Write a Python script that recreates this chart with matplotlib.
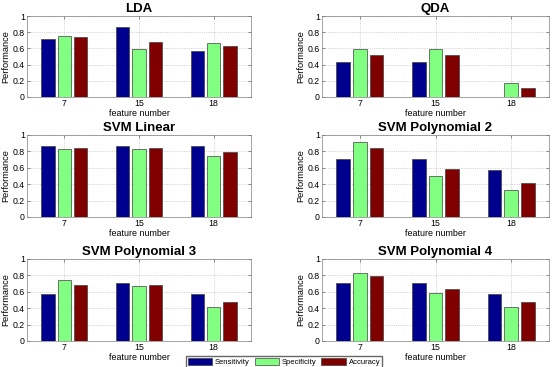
import matplotlib
matplotlib.use("Agg")
import matplotlib.pyplot as plt
import numpy as np

plt.rcParams["font.family"] = ["Liberation Sans", "DejaVu Sans"]

feature_labels = ["7", "15", "18"]
series_names = ["Sensitivity", "Specificity", "Accuracy"]
series_colors = ["#00008f", "#80ff80", "#800000"]

# values per classifier: rows = series (sens, spec, acc), cols = feature sets
lda = [[0.71, 0.86, 0.57], [0.75, 0.59, 0.67], [0.74, 0.68, 0.63]]
qda = [[0.43, 0.43, 0.0], [0.59, 0.59, 0.17], [0.52, 0.52, 0.11]]
svm_linear = [[0.86, 0.86, 0.86], [0.83, 0.83, 0.75], [0.84, 0.84, 0.79]]
svm_poly2 = [[0.71, 0.71, 0.57], [0.92, 0.50, 0.33], [0.84, 0.58, 0.42]]
svm_poly3 = [[0.57, 0.71, 0.57], [0.75, 0.67, 0.42], [0.68, 0.68, 0.47]]
svm_poly4 = [[0.71, 0.71, 0.57], [0.83, 0.59, 0.42], [0.79, 0.63, 0.47]]

panels = [
    ("LDA", lda),
    ("QDA", qda),
    ("SVM Linear", svm_linear),
    ("SVM Polynomial 2", svm_poly2),
    ("SVM Polynomial 3", svm_poly3),
    ("SVM Polynomial 4", svm_poly4),
]

W, H = 552, 367
fig = plt.figure(figsize=(W / 100, H / 100), dpi=100)

# axes boxes in pixels: (left, top, right, bottom)
col_x = [(27, 251), (322, 549)]
row_y = [(16, 97), (135, 217), (259, 341)]

x = np.arange(1, 4)
offsets = [-0.22, 0.0, 0.22]
bar_w = 0.18

handles = []
for i, (title, vals) in enumerate(panels):
    r, c = divmod(i, 2)
    x0, x1 = col_x[c]
    y0, y1 = row_y[r]
    ax = fig.add_axes([x0 / W, 1 - y1 / H, (x1 - x0) / W, (y1 - y0) / H])
    ax.set_axisbelow(True)
    for k in range(3):
        b = ax.bar(x + offsets[k], vals[k], bar_w, color=series_colors[k],
                   edgecolor="#404040", linewidth=0.5, label=series_names[k])
        if i == 0:
            handles.append(b)
    ax.set_xlim(0.5, 3.5)
    ax.set_ylim(0, 1)
    ax.set_xticks(x)
    ax.set_xticklabels(feature_labels)
    ax.set_yticks([0, 0.2, 0.4, 0.6, 0.8, 1])
    ax.set_yticklabels(["0", "0.2", "0.4", "0.6", "0.8", "1"])
    ax.tick_params(direction="in", labelsize=6.3, length=2, width=0.4, pad=1.5,
                   top=True, right=True, colors="#404040", labelcolor="black")
    ax.grid(True, linestyle=":", linewidth=0.5, color="#b0b0b0")
    for s in ax.spines.values():
        s.set_linewidth(0.5)
        s.set_color("#808080")
    ax.set_title(title, fontsize=9.5, fontweight="bold", pad=3)
    ax.set_xlabel("feature number", fontsize=6.4, labelpad=0.5)
    ax.set_ylabel("Performance", fontsize=6.7, labelpad=1.5)

fig.legend(handles, series_names, loc="upper center", ncol=3,
           bbox_to_anchor=(284 / W, 1 - 352 / H), fontsize=5.5, frameon=True,
           fancybox=False, edgecolor="#404040", handlelength=3.2,
           handleheight=1.0, columnspacing=0.6, handletextpad=0.4,
           borderpad=0.25)

fig.savefig("out.png", dpi=100)
